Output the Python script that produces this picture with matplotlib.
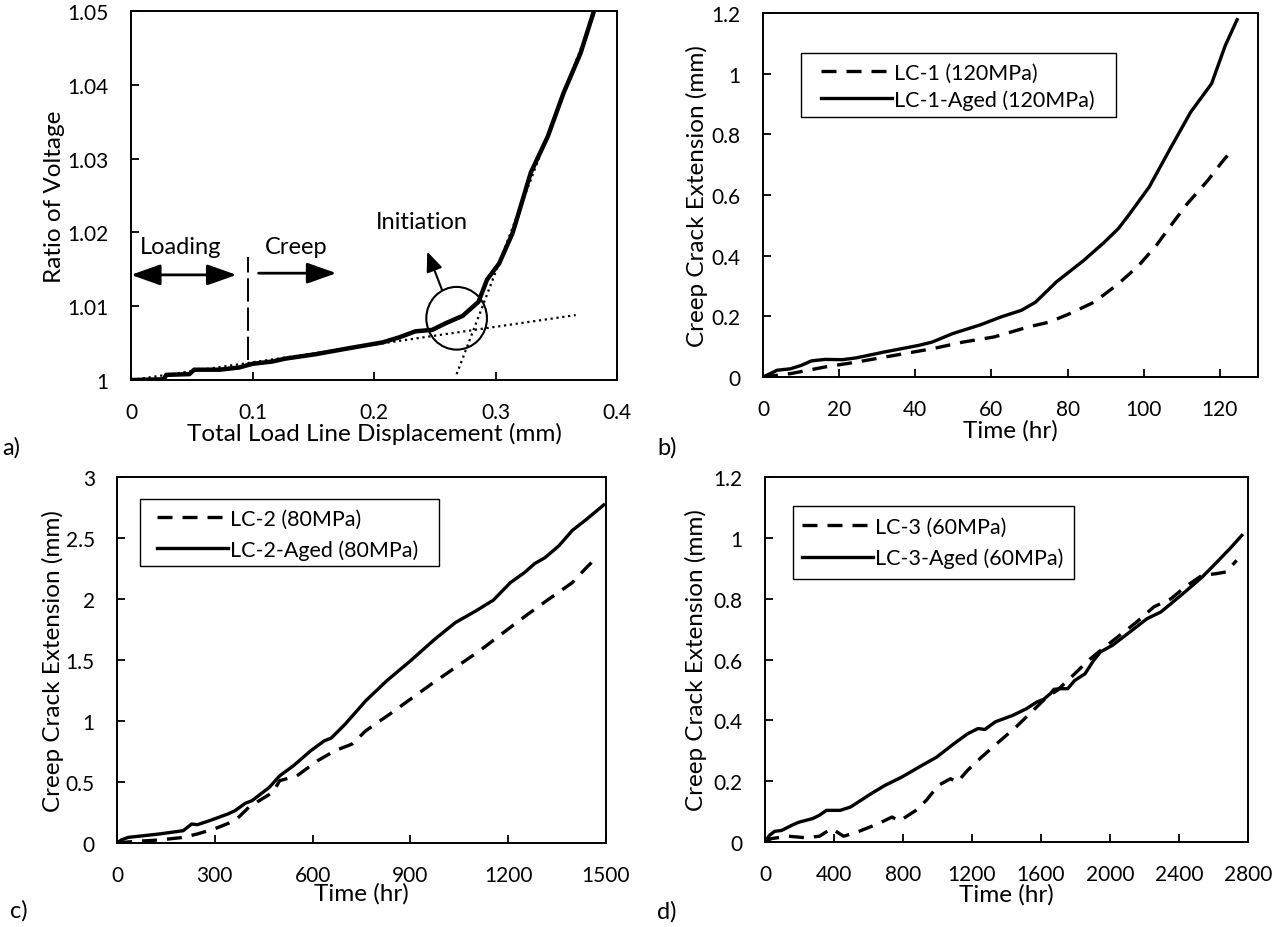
import numpy as np
import matplotlib
matplotlib.use("Agg")
import matplotlib.pyplot as plt
from matplotlib.patches import Ellipse, Rectangle
from matplotlib.ticker import FuncFormatter

plt.rcParams['font.family'] = ['Lato', 'DejaVu Sans']
FS_TICK = 15
FS_LAB = 17.5
FS_TXT = 17
FS_LEG = 15.5

# a) voltage ratio vs load line displacement
disp = [0, 0.027, 0.029, 0.048, 0.052, 0.073, 0.089, 0.100, 0.116, 0.127, 0.152, 0.179,
        0.207, 0.221, 0.234, 0.248, 0.259, 0.273, 0.286, 0.293, 0.303, 0.314, 0.319,
        0.329, 0.343, 0.356, 0.370, 0.381]
volt = [1.0, 1.0001, 1.0007, 1.0008, 1.0014, 1.0014, 1.0017, 1.0022, 1.0025, 1.0029, 1.0035, 1.0043,
        1.0051, 1.0058, 1.0066, 1.0068, 1.0077, 1.0087, 1.0106, 1.0136, 1.0158, 1.0199, 1.0226,
        1.0281, 1.0330, 1.0389, 1.0443, 1.0500]
creep_fit_x = [0.0, 0.366]
creep_fit_y = [1.0, 1.0088]
init_fit_x = [0.268, 0.382]
init_fit_y = [1.0008, 1.0500]

# b) LC-1 (120MPa)
t_b_aged = [0, 2.7, 3.6, 7.2, 10, 12.7, 16.3, 20.8, 24.5, 31.7, 40.8, 44.4, 49.8, 57.1, 62.5,
            67.9, 71.6, 77, 84.2, 89.7, 93.3, 96, 101.4, 106.9, 112.3, 117.8, 121.4, 124.5]
a_b_aged = [0, 0.016, 0.022, 0.027, 0.038, 0.053, 0.058, 0.057, 0.063, 0.082, 0.104, 0.115, 0.143,
            0.172, 0.198, 0.220, 0.247, 0.313, 0.384, 0.445, 0.489, 0.533, 0.626, 0.752, 0.873,
            0.967, 1.093, 1.178]
t_b = [0, 7.2, 16.3, 24.5, 34.4, 44.4, 52.5, 60.7, 69.7, 75.2, 80.6, 87, 93.3, 98.7, 103.3,
       107.8, 111.4, 116.8, 120.5, 122.7]
a_b = [0, 0.011, 0.033, 0.049, 0.071, 0.093, 0.115, 0.132, 0.165, 0.181, 0.209, 0.247, 0.307,
       0.368, 0.434, 0.511, 0.571, 0.648, 0.708, 0.741]

# c) LC-2 (80MPa)
t_c_aged = [0, 13, 34, 129, 203, 229, 246, 277, 298, 340, 362, 393, 414, 467, 499, 541, 594, 636,
            657, 700, 763, 827, 900, 975, 1038, 1101, 1154, 1207, 1250, 1281, 1313, 1355, 1397,
            1440, 1493]
a_c_aged = [0, 0.025, 0.046, 0.074, 0.101, 0.156, 0.150, 0.177, 0.197, 0.238, 0.265, 0.325, 0.347,
            0.456, 0.551, 0.633, 0.756, 0.838, 0.860, 0.975, 1.166, 1.329, 1.493, 1.671, 1.807,
            1.903, 1.990, 2.135, 2.217, 2.290, 2.339, 2.435, 2.563, 2.653, 2.771]
t_c = [0, 44, 129, 203, 246, 298, 362, 404, 436, 478, 499, 552, 615, 668, 721, 763, 837, 900, 964,
       1038, 1112, 1186, 1260, 1324, 1397, 1440, 1466]
a_c = [0, 0.011, 0.025, 0.046, 0.074, 0.115, 0.183, 0.292, 0.347, 0.415, 0.511, 0.551, 0.674,
       0.756, 0.811, 0.920, 1.057, 1.179, 1.302, 1.439, 1.575, 1.726, 1.875, 1.998, 2.135, 2.258,
       2.326]

# d) LC-3 (60MPa)
t_d_aged = [0, 26, 56, 96, 156, 196, 276, 316, 356, 436, 496, 616, 695, 795, 895, 995, 1095, 1175,
            1235, 1275, 1335, 1435, 1515, 1575, 1615, 1655, 1675, 1715, 1755, 1795, 1855, 1905,
            1945, 2015, 2114, 2214, 2294, 2354, 2434, 2534, 2614, 2694, 2764]
a_d_aged = [0, 0.022, 0.035, 0.038, 0.055, 0.065, 0.077, 0.088, 0.104, 0.104, 0.115, 0.159, 0.186,
            0.214, 0.247, 0.279, 0.323, 0.356, 0.373, 0.370, 0.395, 0.416, 0.438, 0.460, 0.469,
            0.488, 0.502, 0.504, 0.504, 0.531, 0.553, 0.597, 0.625, 0.647, 0.690, 0.734, 0.756,
            0.784, 0.822, 0.871, 0.917, 0.964, 1.008]
t_d = [0, 36, 136, 236, 316, 386, 456, 536, 656, 736, 780, 875, 935, 1005, 1075, 1115, 1175, 1255,
       1355, 1455, 1535, 1615, 1665, 1695, 1775, 1875, 1935, 2055, 2154, 2254, 2354, 2434, 2534,
       2614, 2674, 2734]
a_d = [0, 0.011, 0.019, 0.014, 0.019, 0.044, 0.019, 0.033, 0.060, 0.082, 0.069, 0.104, 0.137,
       0.186, 0.208, 0.197, 0.236, 0.279, 0.329, 0.378, 0.422, 0.466, 0.488, 0.499, 0.542, 0.597,
       0.625, 0.679, 0.723, 0.773, 0.800, 0.838, 0.877, 0.882, 0.888, 0.926]

fig = plt.figure(figsize=(12.82, 9.28), dpi=100)
ax_a = fig.add_axes([0.1022, 0.5894, 0.3791, 0.3976])
ax_b = fig.add_axes([0.5952, 0.5927, 0.3861, 0.3922])
ax_c = fig.add_axes([0.0913, 0.0905, 0.3814, 0.3944])
ax_d = fig.add_axes([0.5967, 0.0916, 0.3768, 0.3933])

fmt = FuncFormatter(lambda v, p: f"{round(v, 4):g}")


def style(ax, xlim, xticks, ylim, yticks, xlabel, ylabel, xl_y, yl_x):
    ax.set_xlim(*xlim)
    ax.set_ylim(*ylim)
    ax.set_xticks(xticks)
    ax.set_yticks(yticks)
    ax.xaxis.set_major_formatter(fmt)
    ax.yaxis.set_major_formatter(fmt)
    ax.tick_params(direction='in', length=6, width=1.3, labelsize=FS_TICK, pad=16,
                   top=False, right=False)
    for s in ax.spines.values():
        s.set_linewidth(1.4)
    ax.set_xlabel(xlabel, fontsize=FS_LAB)
    ax.set_ylabel(ylabel, fontsize=FS_LAB)
    ax.xaxis.set_label_coords(0.5, xl_y)
    ax.yaxis.set_label_coords(yl_x, 0.5)


def boxed_legend(ax, box, handle_x, rows_y, spacing):
    # Excel-style legend: square white frame, entries placed inside
    ax.add_patch(Rectangle((box[0], box[1]), box[2] - box[0], box[3] - box[1],
                           transform=ax.transAxes, facecolor='white', edgecolor='k',
                           lw=1.0, zorder=4))
    leg = ax.legend(loc='center left', bbox_to_anchor=(handle_x, sum(rows_y) / 2),
                    fontsize=FS_LEG, frameon=False, handlelength=3.3, handletextpad=0.1,
                    borderpad=0, borderaxespad=0, labelspacing=spacing)
    leg.set_zorder(5)


dash = (0, (4.5, 3))

# panel a
ax_a.plot(creep_fit_x, creep_fit_y, color='k', lw=1.6, ls=':')
ax_a.plot(init_fit_x, init_fit_y, color='k', lw=1.6, ls=':')
ax_a.plot(disp, volt, color='k', lw=3.2)
ax_a.add_patch(Ellipse((0.268, 1.00837), 0.0499, 0.0085, fill=False, lw=1.5, color='k'))
ax_a.plot([0.0964, 0.0964], [1.0027, 1.0167], color='k', lw=1.4, ls=(0, (12, 3)))
ax_a.annotate('', xy=(0.0, 1.01425), xytext=(0.0868, 1.01425),
              arrowprops=dict(arrowstyle='<|-|>,head_length=0.9,head_width=0.32',
                              lw=2, color='k', mutation_scale=20, shrinkA=0, shrinkB=0))
ax_a.annotate('', xy=(0.169, 1.01448), xytext=(0.105, 1.01448),
              arrowprops=dict(arrowstyle='-|>,head_length=0.9,head_width=0.32',
                              lw=2, color='k', mutation_scale=20, shrinkA=0, shrinkB=0))
ax_a.annotate('', xy=(0.2438, 1.0174), xytext=(0.256, 1.0122),
              arrowprops=dict(arrowstyle='-|>,head_length=0.6,head_width=0.25',
                              lw=1.5, color='k', mutation_scale=20, shrinkA=0, shrinkB=0))
ax_a.text(0.041, 1.0181, 'Loading', fontsize=FS_TXT, ha='center', va='center')
ax_a.text(0.136, 1.0181, 'Creep', fontsize=FS_TXT, ha='center', va='center')
ax_a.text(0.239, 1.0215, 'Initiation', fontsize=FS_TXT, ha='center', va='center')
style(ax_a, (0, 0.4), np.arange(0, 0.41, 0.1), (1, 1.05), np.arange(1, 1.0501, 0.01),
      'Total Load Line Displacement (mm)', 'Ratio of Voltage', -0.113, -0.135)

# panel b
ax_b.plot(t_b, a_b, color='k', lw=2.4, ls=dash, label='LC-1 (120MPa)')
ax_b.plot(t_b_aged, a_b_aged, color='k', lw=2.4, label='LC-1-Aged (120MPa)')
style(ax_b, (0, 130), np.arange(0, 121, 20), (0, 1.2), np.arange(0, 1.21, 0.2),
      'Time (hr)', 'Creep Crack Extension (mm)', -0.116, -0.112)
boxed_legend(ax_b, (0.077, 0.714, 0.713, 0.890), 0.117, (0.841, 0.758), 0.3)

# panel c
ax_c.plot(t_c, a_c, color='k', lw=2.4, ls=dash, label='LC-2 (80MPa)')
ax_c.plot(t_c_aged, a_c_aged, color='k', lw=2.4, label='LC-2-Aged (80MPa)')
style(ax_c, (0, 1500), np.arange(0, 1501, 300), (0, 3), np.arange(0, 3.01, 0.5),
      'Time (hr)', 'Creep Crack Extension (mm)', -0.106, -0.109)
boxed_legend(ax_c, (0.046, 0.757, 0.658, 0.939), 0.082, (0.891, 0.796), 0.5)

# panel d
ax_d.plot(t_d, a_d, color='k', lw=2.4, ls=dash, label='LC-3 (60MPa)')
ax_d.plot(t_d_aged, a_d_aged, color='k', lw=2.4, label='LC-3-Aged (60MPa)')
style(ax_d, (0, 2800), np.arange(0, 2801, 400), (0, 1.2), np.arange(0, 1.21, 0.2),
      'Time (hr)', 'Creep Crack Extension (mm)', -0.112, -0.119)
boxed_legend(ax_d, (0.058, 0.721, 0.640, 0.920), 0.077, (0.868, 0.772), 0.5)

fig.text(0.002, 1 - 448 / 928, 'a)', fontsize=FS_TXT, va='center', ha='left')
fig.text(657 / 1282, 1 - 448 / 928, 'b)', fontsize=FS_TXT, va='center', ha='left')
fig.text(10 / 1282, 1 - 911 / 928, 'c)', fontsize=FS_TXT, va='center', ha='left')
fig.text(657 / 1282, 1 - 912 / 928, 'd)', fontsize=FS_TXT, va='center', ha='left')

fig.savefig('out.png', dpi=100)
